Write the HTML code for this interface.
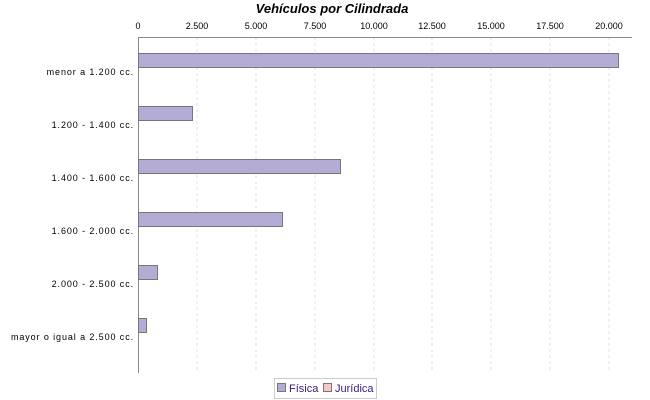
<!DOCTYPE html>
<html><head><style>body{margin:0;background:#fff}svg{display:block}</style></head><body>
<svg width="650" height="400" xmlns="http://www.w3.org/2000/svg" font-family="Liberation Sans, sans-serif">
<rect width="650" height="400" fill="#fff"/>
<text x="332" y="13" text-anchor="middle" font-size="13" font-weight="bold" font-style="italic">Vehículos por Cilindrada</text>
<g stroke="#e2e2e2" stroke-dasharray="3,3">
<line x1="197" y1="37" x2="197" y2="373"/><line x1="256" y1="37" x2="256" y2="373"/><line x1="315" y1="37" x2="315" y2="373"/><line x1="374" y1="37" x2="374" y2="373"/><line x1="432" y1="37" x2="432" y2="373"/><line x1="491" y1="37" x2="491" y2="373"/><line x1="550" y1="37" x2="550" y2="373"/><line x1="609" y1="37" x2="609" y2="373"/>
</g>
<line x1="138" y1="37.5" x2="632" y2="37.5" stroke="#888"/>
<line x1="138.5" y1="37" x2="138.5" y2="373" stroke="#888"/>
<g font-size="9" text-anchor="middle">
<text x="138" y="29">0</text><text x="197" y="29">2.500</text><text x="256" y="29">5.000</text><text x="315" y="29">7.500</text><text x="374" y="29">10.000</text><text x="432" y="29">12.500</text><text x="491" y="29">15.000</text><text x="550" y="29">17.500</text><text x="609" y="29">20.000</text>
</g>
<g fill="#b5acd6" stroke="#777">
<rect x="138.5" y="53.5" width="480" height="14"/>
<rect x="138.5" y="106.5" width="54" height="14"/>
<rect x="138.5" y="159.5" width="202" height="14"/>
<rect x="138.5" y="212.5" width="144" height="14"/>
<rect x="138.5" y="265.5" width="19" height="14"/>
<rect x="138.5" y="318.5" width="8" height="14"/>
</g>
<g font-size="9" text-anchor="end" letter-spacing="0.9">
<text x="134" y="75">menor a 1.200 cc.</text>
<text x="134" y="128">1.200 - 1.400 cc.</text>
<text x="134" y="181">1.400 - 1.600 cc.</text>
<text x="134" y="234">1.600 - 2.000 cc.</text>
<text x="134" y="287">2.000 - 2.500 cc.</text>
<text x="134" y="340">mayor o igual a 2.500 cc.</text>
</g>
<rect x="274.5" y="378.5" width="102" height="20" fill="#fff" stroke="#ccc"/>
<rect x="277.5" y="383.5" width="8" height="8" fill="#b5acd6" stroke="#777"/>
<text x="289" y="392" font-size="11" fill="#3a1a7a">Física</text>
<rect x="323.5" y="383.5" width="8" height="8" fill="#f7c8c8" stroke="#777"/>
<text x="335" y="392" font-size="11" fill="#3a1a7a">Jurídica</text>
</svg>
</body></html>
